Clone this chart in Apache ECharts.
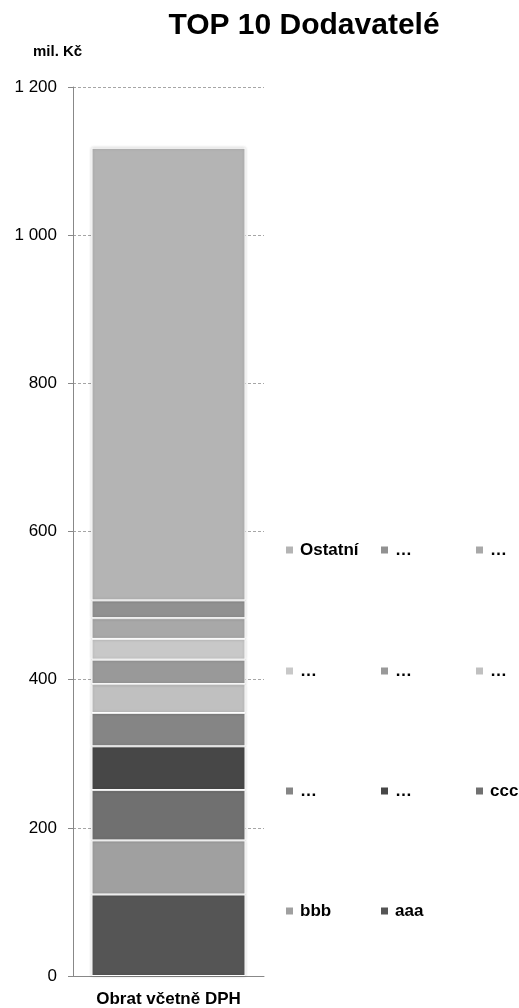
<!DOCTYPE html>
<html>
<head>
<meta charset="utf-8">
<script src="https://cdn.jsdelivr.net/npm/echarts@6/dist/echarts.min.js"></script>
<style>
  html, body { margin: 0; padding: 0; background: #fff; }
  #chart { width: 519px; height: 1008px; }
</style>
</head>
<body>
<div id="chart"></div>
<script>
// Single stacked column: turnover of the top 10 suppliers plus the rest
const categories = ['Obrat včetně DPH'];
// stacked from the bottom up
const supplierLabels = ['aaa', 'bbb', 'ccc', '…', '…', '…', '…', '…', '…', '…', 'Ostatní'];
const supplierValues = [110, 73, 68, 59, 45, 39, 33, 28, 28, 24, 611];
const supplierColors = ['#555555', '#a0a0a0', '#707070', '#474747', '#858585', '#c0c0c0',
                        '#999999', '#c8c8c8', '#a8a8a8', '#919191', '#b4b4b4'];
const yMin = 0, yMax = 1200, yStep = 200;

// legend layout: rows from top, items listed top segment first
const legendRows = [[10, 9, 8], [7, 6, 5], [4, 3, 2], [1, 0]];
const legendCols = [286, 381, 476];
const legendRowCenters = [550, 671, 791, 911];

const FONT = '"Liberation Sans", Arial, sans-serif';
const seriesId = i => 'dodavatel' + (i + 1);

const series = supplierValues.map((v, i) => ({
  name: seriesId(i),
  type: 'bar',
  stack: 'obrat',
  barWidth: 154,
  data: [v],
  itemStyle: {
    color: supplierColors[i],
    borderColor: '#ffffff',
    borderWidth: 1,
    shadowBlur: 3,
    shadowColor: 'rgba(0,0,0,0.18)'
  },
  emphasis: { disabled: true },
  silent: true
}));

const legends = [];
legendRows.forEach((row, r) => {
  row.forEach((idx, c) => {
    legends.push({
      data: [seriesId(idx)],
      left: legendCols[c],
      top: legendRowCenters[r] - 9,
      padding: 0,
      icon: 'rect',
      itemWidth: 7,
      itemHeight: 7,
      itemStyle: { borderWidth: 0, shadowBlur: 0 },
      selectedMode: false,
      formatter: () => supplierLabels[idx],
      textStyle: {
        fontFamily: FONT, fontSize: 17, fontWeight: 'bold', color: '#000',
        lineHeight: 18, padding: [0, 0, 0, 2]
      }
    });
  });
});

const fmt = v => {
  const s = String(v);
  return s.length > 3 ? s.slice(0, s.length - 3) + ' ' + s.slice(-3) : s;
};

const chart = echarts.init(document.getElementById('chart'), null, { renderer: 'canvas' });
chart.setOption({
  animation: false,
  backgroundColor: '#ffffff',
  title: {
    text: 'TOP 10 Dodavatelé',
    left: 299,
    textAlign: 'center',
    top: 6,
    textStyle: { fontFamily: FONT, fontSize: 30, fontWeight: 'bold', color: '#000' }
  },
  graphic: [{
    type: 'text',
    left: 33,
    top: 44,
    style: { text: 'mil. Kč', font: 'bold 15px ' + FONT, fill: '#000' }
  }],
  legend: legends,
  grid: { left: 73, right: 255, top: 87, bottom: 32, containLabel: false },
  xAxis: {
    type: 'category',
    data: categories,
    axisLine: { lineStyle: { color: '#888888', width: 1 } },
    axisTick: { show: false },
    axisLabel: { margin: 15, fontFamily: FONT, fontSize: 17, fontWeight: 'bold', color: '#000' }
  },
  yAxis: {
    type: 'value',
    min: yMin,
    max: yMax,
    interval: yStep,
    axisLine: { show: true, lineStyle: { color: '#888888', width: 1 } },
    axisTick: { show: true, length: 5, lineStyle: { color: '#888888' } },
    axisLabel: { margin: 16, fontFamily: FONT, fontSize: 17, color: '#000', formatter: fmt },
    splitLine: { show: true, lineStyle: { color: '#a6a6a6', type: [3, 2], width: 1 } }
  },
  series
});
</script>
</body>
</html>
